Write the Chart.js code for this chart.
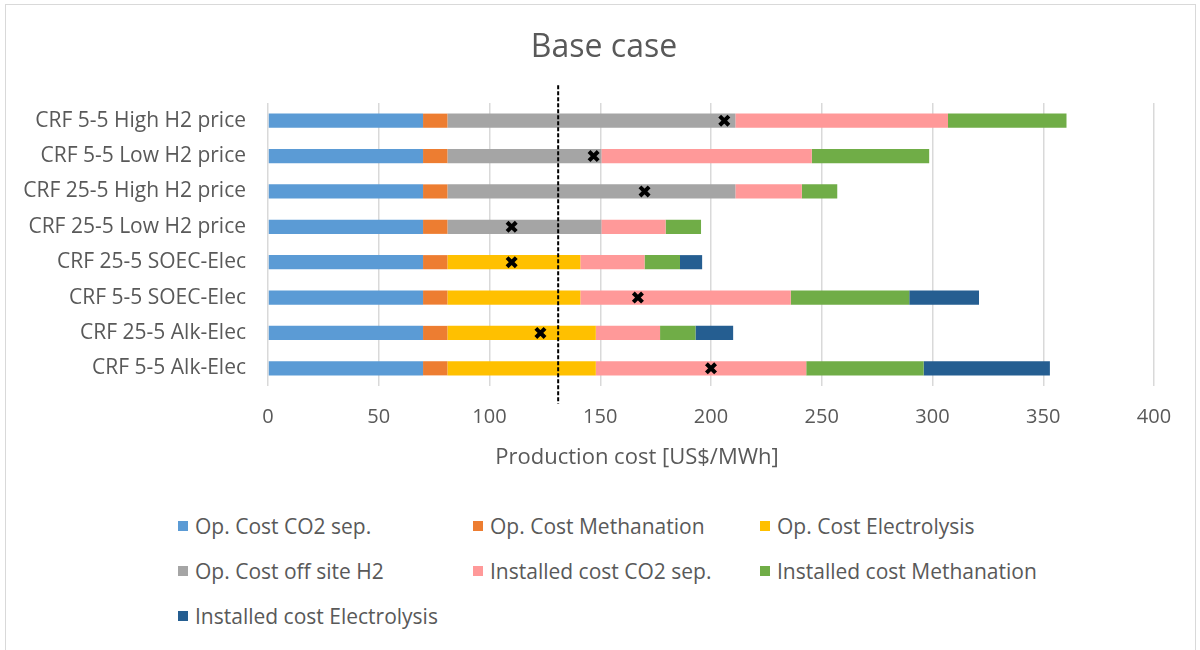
<!DOCTYPE html>
<html>
<head>
<meta charset="utf-8">
<title>Base case</title>
<script src="https://cdn.jsdelivr.net/npm/chart.js@4.4.1/dist/chart.umd.min.js"></script>
<style>
  html, body { margin: 0; padding: 0; background: #fff; }
  body { width: 1200px; height: 650px; position: relative; overflow: hidden; font-family: "Open Sans", sans-serif; }
  .frame { position: absolute; left: 5px; top: 4px; width: 1189px; height: 680px; border: 1px solid #d9d9d9; }
  .chart-box { position: absolute; left: 0; top: 0; width: 1200px; height: 480px; }
  .legend { position: absolute; left: 178px; top: 503px; display: grid; grid-template-columns: 295px 287px 300px; }
  .legend-item { display: flex; align-items: center; height: 45px; font-size: 21px; color: #595959; white-space: nowrap; }
  .legend-swatch { width: 10px; height: 10px; margin-right: 7px; flex: none; }
</style>
</head>
<body>
<div class="frame"></div>
<div class="chart-box"><canvas id="costChart"></canvas></div>
<div class="legend" id="legend"></div>

<script>
// cases, listed top to bottom
const categories = [
  "CRF 5-5 High H2 price",
  "CRF 5-5 Low H2 price",
  "CRF 25-5 High H2 price",
  "CRF 25-5 Low H2 price",
  "CRF 25-5 SOEC-Elec",
  "CRF 5-5 SOEC-Elec",
  "CRF 25-5 Alk-Elec",
  "CRF 5-5 Alk-Elec"
];

// cost components [US$/MWh]
const opCO2Sep         = [70, 70, 70, 70, 70, 70, 70, 70];
const opMethanation    = [11, 11, 11, 11, 11, 11, 11, 11];
const opElectrolysis   = [null, null, null, null, 60, 60, 67, 67];
const opOffSiteH2      = [130, 69.5, 130, 69.5, null, null, null, null];
const instCO2Sep       = [96, 95, 30, 29, 29, 95, 29, 95];
const instMethanation  = [53.5, 53, 16, 16, 16, 53.5, 16, 53];
const instElectrolysis = [null, null, null, null, 10, 31.5, 17, 57];

// black cross markers
const markerValues = [206, 147, 170, 110, 110, 167, 123, 200];

// dashed vertical reference
const referenceCost = 131;

const xMin = 0;
const xMax = 400;
const xStep = 50;

const chartTitle = "Base case";
const xAxisTitle = "Production cost [US$/MWh]";

const textColor = "#595959";
const fontFamily = "'Open Sans', sans-serif";

const series = [
  { label: "Op. Cost CO2 sep.", data: opCO2Sep, color: "#5b9bd5" },
  { label: "Op. Cost Methanation", data: opMethanation, color: "#ed7d31" },
  { label: "Op. Cost Electrolysis", data: opElectrolysis, color: "#ffc000" },
  { label: "Op. Cost off site H2", data: opOffSiteH2, color: "#a5a5a5" },
  { label: "Installed cost CO2 sep.", data: instCO2Sep, color: "#ff9999" },
  { label: "Installed cost Methanation", data: instMethanation, color: "#70ad47" },
  { label: "Installed cost Electrolysis", data: instElectrolysis, color: "#255e91" }
];

const barSets = series.map(s => ({
  type: "bar",
  label: s.label,
  data: s.data,
  backgroundColor: s.color,
  borderWidth: 0,
  stack: "cost",
  order: 2,
  barPercentage: 0.4,
  categoryPercentage: 1
}));

const markerSet = {
  type: "line",
  label: "marker",
  data: markerValues,
  indexAxis: "y",
  stack: "marker",
  showLine: false,
  pointStyle: "crossRot",
  pointRadius: 6.5,
  pointBorderWidth: 4,
  borderColor: "#000",
  backgroundColor: "#000",
  order: 0
};

// dashed line, title and x axis caption
const overlayPlugin = {
  id: "overlay",
  afterDatasetsDraw(chart) {
    const { ctx, scales } = chart;
    const x = scales.x.getPixelForValue(referenceCost);
    const yTop = scales.y.getPixelForValue(-1);
    const yBottom = scales.y.getPixelForValue(categories.length);
    ctx.save();
    ctx.strokeStyle = "#000";
    ctx.lineWidth = 2;
    ctx.setLineDash([4, 2]);
    ctx.beginPath();
    ctx.moveTo(x, yTop);
    ctx.lineTo(x, yBottom);
    ctx.stroke();
    ctx.restore();
  },
  afterDraw(chart) {
    const { ctx, chartArea } = chart;
    ctx.save();
    ctx.fillStyle = textColor;
    ctx.textAlign = "center";
    ctx.textBaseline = "middle";

    ctx.font = "32px " + fontFamily;
    ctx.fillText(chartTitle, chart.width / 2 + 4, 48);

    ctx.font = "22px " + fontFamily;
    const cx = (chartArea.left + chartArea.right) / 2 - 74;
    ctx.fillText(xAxisTitle, cx, chartArea.bottom + 72);
    ctx.restore();
  }
};

const chart = new Chart(document.getElementById("costChart"), {
  data: {
    labels: categories,
    datasets: [...barSets, markerSet]
  },
  options: {
    indexAxis: "y",
    responsive: true,
    maintainAspectRatio: false,
    animation: false,
    devicePixelRatio: 1,
    layout: { padding: { left: 0, right: 46, top: 103, bottom: 0 } },
    plugins: {
      legend: { display: false },
      tooltip: { enabled: false },
      title: { display: false }
    },
    scales: {
      x: {
        type: "linear",
        stacked: true,
        min: xMin,
        max: xMax,
        ticks: {
          stepSize: xStep,
          color: textColor,
          padding: 19,
          font: { family: fontFamily, size: 20 }
        },
        grid: { color: "#d9d9d9", lineWidth: 1.5, drawTicks: false },
        border: { display: false },
        afterFit(scale) { scale.height = 94; }
      },
      y: {
        type: "category",
        stacked: true,
        ticks: {
          color: textColor,
          padding: 22,
          font: { family: fontFamily, size: 21 }
        },
        grid: { display: false, drawTicks: false },
        border: { display: false },
        afterFit(scale) { scale.width = 268; }
      }
    }
  },
  plugins: [overlayPlugin]
});

// legend laid out in three columns
const legendEl = document.getElementById("legend");
series.forEach(s => {
  const item = document.createElement("div");
  item.className = "legend-item";
  const sw = document.createElement("span");
  sw.className = "legend-swatch";
  sw.style.background = s.color;
  const txt = document.createElement("span");
  txt.textContent = s.label;
  item.appendChild(sw);
  item.appendChild(txt);
  legendEl.appendChild(item);
});
</script>
</body>
</html>
